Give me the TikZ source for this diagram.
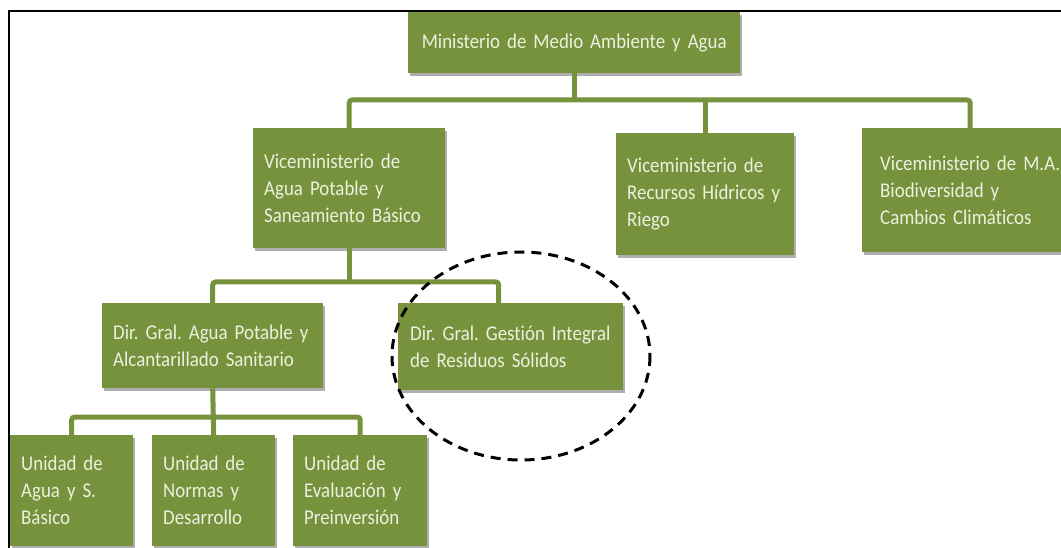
\documentclass[tikz,border=0pt]{standalone}
\usepackage{fontspec}
\setmainfont{Carlito}[FakeStretch=0.9, Ligatures=NoCommon]
\usepackage{tikz}
\usetikzlibrary{shadows}

\definecolor{olivebox}{RGB}{118,146,60}
\definecolor{creamtext}{RGB}{235,241,222}
\newcommand{\boxfont}{\fontsize{21}{27}\selectfont\spaceskip=0.16em plus 0.05em\relax}

\begin{document}
\frenchspacing
\begin{tikzpicture}[x=1pt, y=-1pt,
  box/.style={fill=olivebox, text=creamtext, align=left, anchor=north west,
    inner xsep=11pt, inner ysep=0pt, font=\boxfont,
    drop shadow={shadow xshift=2pt, shadow yshift=-3pt, fill=black!45, opacity=0.7}},
  link/.style={draw=olivebox, line width=5pt, rounded corners=3pt}]

% Page
\useasboundingbox (0,0) rectangle (1061,548);

% Bus levels
\coordinate (busA) at (0,100);
\coordinate (busB) at (0,282);
\coordinate (busC) at (0,417);

% Ministry
\node[box, align=center, text width=310pt, minimum height=61pt]
  (mini) at (408,12) {Ministerio de Medio Ambiente y Agua};

% Vice-ministries
\node[box, text width=170pt, minimum height=120pt]
  (vice1) at (253,128) {Viceministerio de\\Agua Potable y\\Saneamiento Básico};
\node[box, text width=156pt, minimum height=122pt]
  (vice2) at (616,133) {Viceministerio de\\Recursos Hídricos y\\Riego};
\node[box, inner xsep=18pt, text width=180pt, minimum height=124pt]
  (vice3) at (862,128) {Viceministerio de M.A.\\Biodiversidad y\\Cambios Climáticos};

% General directions
\node[box, text width=199pt, minimum height=85pt]
  (dir1) at (102,303) {Dir. Gral. Agua Potable y\\Alcantarillado Sanitario};
\node[box, inner xsep=12pt, text width=201pt, minimum height=87pt]
  (dir2) at (398,303) {Dir. Gral. Gestión Integral\\de Residuos Sólidos};
\coordinate (dir2in) at ([xshift=-12pt]dir2.north);

% Units
\node[box, text width=101pt, minimum height=111pt]
  (unit1) at (10,435) {Unidad de\\Agua y S.\\Básico};
\node[box, text width=101pt, minimum height=111pt]
  (unit2) at (152,435) {Unidad de\\Normas y\\Desarrollo};
\node[box, text width=112pt, minimum height=111pt]
  (unit3) at (293,435) {Unidad de\\Evaluación y\\Preinversión};

% Connectors
\draw[link] (mini.south) -- (mini.south |- busA);
\draw[link] (vice1.north) |- (vice3.north |- busA) -- (vice3.north);
\draw[link] (vice2.north) -- (vice2.north |- busA);

\draw[link] (vice1.south) -- (vice1.south |- busB);
\draw[link] (dir1.north) |- (dir2in |- busB) -- (dir2in);

\draw[link] (dir1.south) -- (unit2.north);
\draw[link] (unit1.north) |- (unit3.north |- busC) -- (unit3.north);

% Highlight ring
\draw[line width=3pt, dash pattern=on 10pt off 7pt]
  (521,356) ellipse [x radius=129, y radius=104];

% Frame
\draw[line width=2.5pt] (9,548) -- (9,11) -- (1061,11);

\end{tikzpicture}
\end{document}
